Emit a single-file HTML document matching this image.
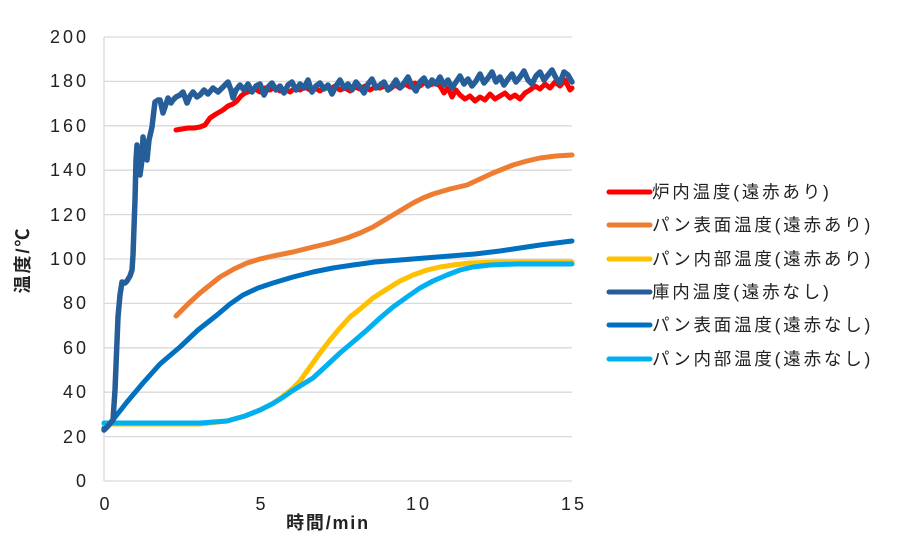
<!DOCTYPE html>
<html><head><meta charset="utf-8"><style>
html,body{margin:0;padding:0;background:#fff;}
svg{display:block;}
text{font-family:"Liberation Sans","Noto Sans CJK JP",sans-serif;fill:#222;}
</style></head><body>
<svg width="900" height="552" viewBox="0 0 900 552" xmlns="http://www.w3.org/2000/svg">
<g stroke="#d9d9d9" stroke-width="1.3">
<line x1="104" y1="37" x2="572" y2="37"/>
<line x1="104" y1="81.4" x2="572" y2="81.4"/>
<line x1="104" y1="125.8" x2="572" y2="125.8"/>
<line x1="104" y1="170.2" x2="572" y2="170.2"/>
<line x1="104" y1="214.6" x2="572" y2="214.6"/>
<line x1="104" y1="259" x2="572" y2="259"/>
<line x1="104" y1="303.4" x2="572" y2="303.4"/>
<line x1="104" y1="347.8" x2="572" y2="347.8"/>
<line x1="104" y1="392.2" x2="572" y2="392.2"/>
<line x1="104" y1="436.6" x2="572" y2="436.6"/>
<line x1="104" y1="481" x2="572" y2="481"/>
<line x1="104" y1="37" x2="104" y2="481"/>
</g>
<g font-size="18" text-anchor="end" letter-spacing="3">
<text x="89" y="43">200</text>
<text x="89" y="87">180</text>
<text x="89" y="132">160</text>
<text x="89" y="176">140</text>
<text x="89" y="221">120</text>
<text x="89" y="265">100</text>
<text x="89" y="309">80</text>
<text x="89" y="354">60</text>
<text x="89" y="398">40</text>
<text x="89" y="443">20</text>
<text x="89" y="487">0</text>
</g>
<g font-size="18" text-anchor="middle" letter-spacing="3">
<text x="106" y="510">0</text>
<text x="262" y="510">5</text>
<text x="419" y="510">10</text>
<text x="574" y="510">15</text>
</g>
<text x="328" y="529" font-size="18" font-weight="bold" text-anchor="middle" letter-spacing="1.8">時間/min</text>
<text transform="translate(29,260) rotate(-90)" font-size="18" font-weight="bold" text-anchor="middle" letter-spacing="2">温度/℃</text>

<g fill="none" stroke-width="5" stroke-linecap="round" stroke-linejoin="round">
<!-- orange -->
<polyline stroke="#ed7d31" points="176,316 188,304 200,293 210,285 220,277 234,269 247,263 260,259 273,256 293,252 313,247 330,243 347,238 360,233 373,227 383,221 393,215 403,209 413,203 423,198 433,194 450,189 467,185 480,179 493,173 503,169 513,165 527,161 540,158 556,156 572,155"/>
<!-- blue pan surface no IR -->
<polyline stroke="#0070c0" points="104,428 112,421 127,402 143,383 160,364 180,347 198,330 217,315 230,304 243,295 258,288 273,283 293,277 313,272 333,268 353,265 375,262 400,260 425,258 450,256 475,254 500,251 520,248 540,245 556,243 572,241"/>
<!-- yellow -->
<polyline stroke="#ffc000" points="104,424 150,424 200,424 227,421 245,416 260,410 272,404 282,397 292,389 300,381 310,367 320,353 330,340 340,328 350,317 360,309 373,298 387,289 400,281 413,275 427,270 440,267 453,265 470,263 500,262 540,262 572,262"/>
<!-- light blue -->
<polyline stroke="#00b0f0" points="104,423 150,423 200,423 227,421 245,416 260,410 272,404 282,398 292,391 300,386 313,378 325,367 340,353 353,342 367,330 380,318 393,307 407,297 420,288 433,281 447,275 460,270 473,267 490,265 517,264 545,264 572,264"/>
<!-- red -->
<polyline stroke="#ff0000" points="176,130 182,129 188,128 194,128 200,127 205,125 210,118 216,114 223,110 228,106 233,104 237,101 241,96 245,93 250,91 255,89 260,92 265,88 270,90 275,87 280,91 285,89 290,92 295,88 300,90 305,87 310,90 315,88 320,91 325,87 330,89 335,86 340,90 345,88 350,91 355,87 360,89 365,86 370,90 375,87 380,88 385,86 390,89 395,85 400,88 405,84 410,87 415,83 420,86 425,82 430,85 435,83 440,86 444,93 448,88 452,97 456,90 460,95 465,99 470,96 475,101 480,97 485,100 490,94 495,99 500,96 505,93 510,98 515,95 520,99 525,93 530,90 535,86 540,89 545,84 550,88 555,82 560,86 565,80 570,90 572,88"/>
<!-- dark blue storeroom -->
<polyline stroke="#255e99" stroke-width="5.5" points="104,430 108,426 113,420 115,390 118,317 120,295 122,282 125,283 127,281 130,276 132,270 133,255 135,200 136,160 137,145 139,170 140,175 142,160 143,137 145,150 147,160 149,140 152,127 154,110 155,102 158,100 160,100 163,113 166,104 168,98 171,103 173,100 176,97 180,95 183,92 187,103 190,96 193,92 197,97 200,95 204,90 208,94 213,88 218,92 223,87 228,82 231,90 233,98 236,90 240,85 244,90 248,84 252,92 256,86 260,84 264,95 268,87 272,83 276,90 280,86 284,93 288,85 292,82 296,90 300,84 304,88 308,80 312,92 316,86 320,83 324,89 328,85 332,94 336,86 340,80 344,88 348,84 352,90 356,82 360,87 364,93 368,84 372,79 376,88 380,85 384,82 388,90 392,86 396,80 400,88 404,83 408,77 412,86 416,91 420,82 424,78 428,86 432,80 436,84 440,77 444,85 448,80 452,88 456,82 460,76 464,84 468,79 472,86 476,81 480,74 484,83 488,78 492,72 496,82 500,77 504,85 508,79 512,74 516,82 520,77 524,71 528,80 532,84 536,76 540,72 544,80 548,75 552,70 556,78 560,83 564,72 568,75 572,82"/>
</g>

<g stroke-width="5" stroke-linecap="round">
<line x1="609" y1="192" x2="650" y2="192" stroke="#ff0000"/>
<line x1="609" y1="225" x2="650" y2="225" stroke="#ed7d31"/>
<line x1="609" y1="259" x2="650" y2="259" stroke="#ffc000"/>
<line x1="609" y1="292" x2="650" y2="292" stroke="#255e99"/>
<line x1="609" y1="325" x2="650" y2="325" stroke="#0070c0"/>
<line x1="609" y1="359" x2="650" y2="359" stroke="#00b0f0"/>
</g>
<g font-size="17.5" letter-spacing="2.8">
<text x="652" y="198">炉内温度(遠赤あり)</text>
<text x="652" y="231">パン表面温度(遠赤あり)</text>
<text x="652" y="265">パン内部温度(遠赤あり)</text>
<text x="652" y="298">庫内温度(遠赤なし)</text>
<text x="652" y="331">パン表面温度(遠赤なし)</text>
<text x="652" y="365">パン内部温度(遠赤なし)</text>
</g>
</svg>
</body></html>
